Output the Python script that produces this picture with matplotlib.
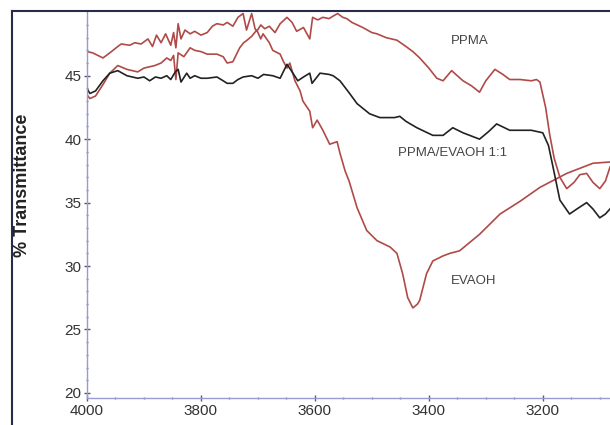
import matplotlib
matplotlib.use('Agg')
import matplotlib.pyplot as plt
from matplotlib.lines import Line2D

plt.rcParams['font.family'] = ['Liberation Sans', 'DejaVu Sans']

# PPMA
ppma_x = [4000, 3990, 3972, 3960, 3946, 3940, 3925, 3916, 3905, 3893, 3885, 3878, 3870, 3862,
          3853, 3848, 3844, 3840, 3835, 3828, 3819, 3811, 3800, 3789, 3780, 3772, 3761, 3754,
          3744, 3735, 3726, 3720, 3711, 3705, 3702, 3695, 3688, 3680, 3670, 3661, 3649, 3640,
          3632, 3620, 3609, 3604, 3595, 3586, 3575, 3568, 3560, 3551, 3544, 3535, 3516, 3500,
          3491, 3475, 3456, 3440, 3428, 3416, 3400, 3386, 3375, 3360, 3340, 3325, 3311, 3300,
          3284, 3270, 3258, 3240, 3220, 3211, 3205, 3195, 3188, 3180, 3170, 3158, 3145, 3135,
          3123, 3112, 3100, 3090, 3082]
ppma_y = [46.9, 46.8, 46.4, 46.8, 47.3, 47.5, 47.4, 47.6, 47.5, 47.9, 47.3, 48.2, 47.6, 48.3,
          47.4, 48.4, 47.2, 49.1, 47.9, 48.6, 48.3, 48.5, 48.2, 48.4, 48.9, 49.1, 49.0, 49.2,
          48.9, 49.6, 49.9, 48.6, 49.9, 48.7, 48.5, 49.0, 48.7, 48.9, 48.4, 49.1, 49.6, 49.2,
          48.5, 48.8, 47.9, 49.6, 49.4, 49.6, 49.5, 49.7, 49.9, 49.6, 49.5, 49.2, 48.8, 48.4,
          48.3, 48.0, 47.8, 47.3, 46.9, 46.4, 45.6, 44.8, 44.6, 45.4, 44.6, 44.2, 43.7, 44.6,
          45.5, 45.1, 44.7, 44.7, 44.6, 44.7, 44.5, 42.5, 40.4, 38.5, 37.0, 36.1, 36.6, 37.2,
          37.3, 36.6, 36.1, 36.7, 37.8]

# EVAOH
evaoh_x = [4000, 3995, 3985, 3972, 3960, 3946, 3930, 3911, 3900, 3881, 3870, 3860, 3853, 3848,
           3844, 3840, 3830, 3819, 3811, 3800, 3789, 3772, 3761, 3754, 3744, 3732, 3725, 3719,
           3711, 3702, 3695, 3691, 3680, 3674, 3661, 3655, 3649, 3644, 3635, 3626, 3621, 3609,
           3604, 3596, 3586, 3574, 3561, 3556, 3547, 3540, 3526, 3509, 3491, 3468, 3456, 3446,
           3437, 3428, 3420, 3416, 3404, 3393, 3375, 3363, 3346, 3311, 3275, 3240, 3205, 3158,
           3112, 3082]
evaoh_y = [43.5, 43.2, 43.4, 44.3, 45.2, 45.8, 45.5, 45.3, 45.6, 45.8, 46.0, 46.4, 46.2, 46.6,
           44.7, 46.8, 46.5, 47.2, 47.0, 46.9, 46.7, 46.7, 46.5, 46.0, 46.1, 47.2, 47.6, 47.8,
           48.1, 48.6, 47.9, 48.3, 47.6, 47.0, 46.7, 46.1, 45.6, 46.0, 44.6, 43.8, 43.0, 42.2,
           40.9, 41.5, 40.7, 39.6, 39.8, 38.9, 37.5, 36.7, 34.6, 32.8, 32.0, 31.5, 31.0, 29.4,
           27.5, 26.7, 27.0, 27.3, 29.4, 30.4, 30.8, 31.0, 31.2, 32.5, 34.1, 35.1, 36.2, 37.3,
           38.1, 38.2]

# PPMA/EVAOH 1:1
blend_x = [4000, 3995, 3985, 3972, 3960, 3946, 3930, 3911, 3900, 3890, 3880, 3870, 3860, 3853,
           3845, 3840, 3835, 3825, 3819, 3811, 3800, 3789, 3772, 3761, 3754, 3744, 3735, 3726,
           3711, 3700, 3690, 3674, 3661, 3649, 3640, 3630, 3620, 3609, 3605, 3591, 3575, 3568,
           3556, 3539, 3526, 3504, 3486, 3460, 3451, 3440, 3421, 3393, 3375, 3358, 3340, 3311,
           3295, 3281, 3258, 3220, 3200, 3190, 3182, 3170, 3153, 3140, 3123, 3112, 3100, 3090,
           3082]
blend_y = [44.0, 43.6, 43.8, 44.6, 45.2, 45.4, 45.0, 44.8, 44.9, 44.6, 44.9, 44.8, 45.0, 44.7,
           45.3, 45.5, 44.5, 45.2, 44.8, 45.0, 44.8, 44.8, 44.9, 44.6, 44.4, 44.4, 44.7, 44.9,
           45.0, 44.8, 45.1, 45.0, 44.8, 45.9, 45.3, 44.6, 44.9, 45.2, 44.4, 45.2, 45.1, 45.0,
           44.6, 43.6, 42.8, 42.0, 41.7, 41.7, 41.8, 41.4, 40.9, 40.3, 40.3, 40.9, 40.5, 40.0,
           40.6, 41.2, 40.7, 40.7, 40.5, 39.5, 37.8, 35.2, 34.1, 34.5, 35.0, 34.5, 33.8, 34.1,
           34.5]

red = '#b04a48'
fig = plt.figure(figsize=(6.1, 4.25), dpi=100)
ax = fig.add_axes([87/610, 1 - 398/425, 1 - 87/610, 387/425])

ax.plot(ppma_x, ppma_y, color=red, lw=1.2)
ax.plot(evaoh_x, evaoh_y, color=red, lw=1.2)
ax.plot(blend_x, blend_y, color='#222222', lw=1.2)

ax.set_xlim(4000, 3082)
ax.set_ylim(19.6, 50.1)
ax.set_xticks([4000, 3800, 3600, 3400, 3200])
ax.set_yticks([20, 25, 30, 35, 40, 45])
ax.set_xticks(range(3100, 4001, 50), minor=True)
ax.set_yticks(range(20, 50), minor=True)

for side in ['top', 'right']:
    ax.spines[side].set_visible(False)
for side in ['left', 'bottom']:
    ax.spines[side].set_color('#9a9ad2')
    ax.spines[side].set_linewidth(1.0)
ax.tick_params(which='major', direction='inout', length=4, width=1, color='#555577',
               labelsize=11, labelcolor='#333333', pad=2)
ax.tick_params(which='minor', direction='inout', length=2, width=1, color='#7777aa')

ax.set_ylabel('% Transmittance', fontsize=13, fontweight='bold', color='#222222')
ax.yaxis.set_label_coords(-0.108, 0.55)

ax.text(3328, 47.75, 'PPMA', fontsize=9.5, color='#444444', ha='center', va='center')
ax.text(3358, 38.9, 'PPMA/EVAOH 1:1', fontsize=9.5, color='#444444', ha='center', va='center')
ax.text(3321, 28.8, 'EVAOH', fontsize=9.5, color='#444444', ha='center', va='center')

# outer frame (left and top edges visible)
fig.add_artist(Line2D([12/610, 12/610], [0, 1 - 11/425], color='#2a2a4a', lw=1.5))
fig.add_artist(Line2D([12/610, 1], [1 - 11/425, 1 - 11/425], color='#2a2a4a', lw=1.5))

plt.savefig('out.png', dpi=100)
